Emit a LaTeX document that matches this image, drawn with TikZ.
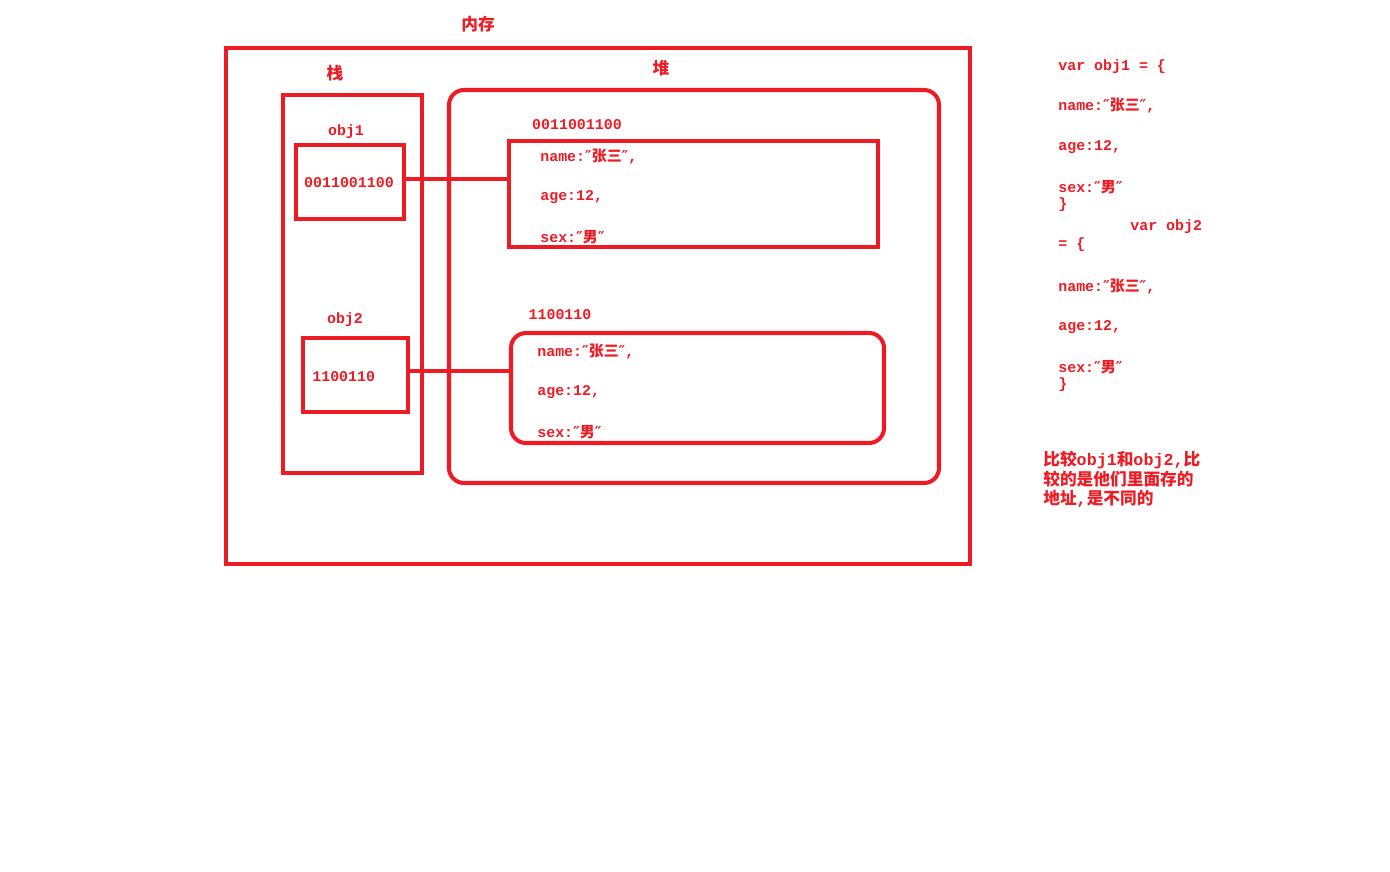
\documentclass[tikz,border=0pt]{standalone}
\usepackage{fontspec}
\setmainfont{Liberation Mono}
\newfontfamily\cjk{Noto Sans CJK SC}
\newfontfamily\qfont{DejaVu Sans}
\newcommand\zh[1]{{\cjk #1}}
\newcommand\qq{{\qfont\bfseries ″}}
\newcommand\pix{0.02cm}
\definecolor{paintred}{RGB}{237,28,36}
\tikzset{
  box/.style={draw=paintred, line width=2.3pt, rectangle, inner sep=0pt},
  lbl/.style={text=paintred, inner sep=0pt, font=\fontsize{8.5}{10}\selectfont\bfseries},
  field/.style={lbl, anchor=west},
  head/.style={text=paintred, inner sep=0pt, font=\fontsize{9.5}{11}\selectfont\bfseries},
  note/.style={head, anchor=west},
  link/.style={draw=paintred, line width=2.3pt},
}
\begin{document}
\begin{tikzpicture}[x=\pix,y=-\pix]
        \useasboundingbox (0,0) rectangle (1390,872);

        %% memory
        \node[box, minimum width=744*\pix, minimum height=516*\pix] (mem) at (598,306) {};
        \node[head] (memlbl) at (478,24) {\zh{内存}};

        %% stack
        \node[box, minimum width=139*\pix, minimum height=378*\pix] (stack) at (352.5,284) {};
        \node[head] (stacklbl) at (335,73) {\zh{栈}};

        %% heap
        \node[box, rounded corners=0.3cm, minimum width=490*\pix, minimum height=393*\pix] (heap) at (694,286.5) {};
        \node[head] (heaplbl) at (661,68) {\zh{堆}};

        %% stack entries
        \node[lbl] (obj1lbl) at (346,132) {obj1};
        \node[box, minimum width=108*\pix, minimum height=74*\pix] (ref1) at (350,182) {};
        \node[lbl] (ref1txt) at (349,183) {0011001100};

        \node[lbl] (obj2lbl) at (345,320) {obj2};
        \node[box, minimum width=105*\pix, minimum height=74*\pix] (ref2) at (355.5,375) {};
        \node[field] (ref2txt) at (312,377) {1100110};

        %% heap objects
        \node[lbl] (adr1) at (577,125) {0011001100};
        \node[box, minimum width=369*\pix, minimum height=106*\pix] (heapa) at (693.5,194) {};
        \node[field] (namea) at (540,157) {name:\qq\zh{张三}\qq,};
        \node[field] (agea) at (540,197) {age:12,};
        \node[field] (sexa) at (540,237) {sex:\qq\zh{男}\qq};

        \node[lbl] (adr2) at (560,315) {1100110};
        \node[box, rounded corners=0.3cm, minimum width=373*\pix, minimum height=110*\pix] (heapb) at (697.5,388) {};
        \node[field] (nameb) at (537,352) {name:\qq\zh{张三}\qq,};
        \node[field] (ageb) at (537,392) {age:12,};
        \node[field] (sexb) at (537,432) {sex:\qq\zh{男}\qq};

        %% references
        \draw[link] ([yshift=0.06cm]ref1.east) -- ([yshift=0.06cm]ref1.east -| heapa.west);
        \draw[link] ([yshift=0.08cm]ref2.east) -- ([yshift=0.08cm]ref2.east -| heapb.west);

        %% code
        \node[field] (code1) at (1058,67) {var obj1 = \{};
        \node[field] (code2) at (1058,106) {name:\qq\zh{张三}\qq,};
        \node[field] (code3) at (1058,147) {age:12,};
        \node[field] (code4) at (1058,187) {sex:\qq\zh{男}\qq};
        \node[field] (code5) at (1058,205) {\}};
        \node[field] (code6) at (1130,227) {var obj2};
        \node[field] (code7) at (1058,245) {= \{};
        \node[field] (code8) at (1058,287) {name:\qq\zh{张三}\qq,};
        \node[field] (code9) at (1058,327) {age:12,};
        \node[field] (code10) at (1058,367) {sex:\qq\zh{男}\qq};
        \node[field] (code11) at (1058,385) {\}};

        %% remark
        \node[note] (rem1) at (1043,460) {\zh{比较}obj1\zh{和}obj2,\zh{比}};
        \node[note] (rem2) at (1043,479) {\zh{较的是他们里面存的}};
        \node[note] (rem3) at (1043,499) {\zh{地址},\zh{是不同的}};
\end{tikzpicture}
\end{document}
